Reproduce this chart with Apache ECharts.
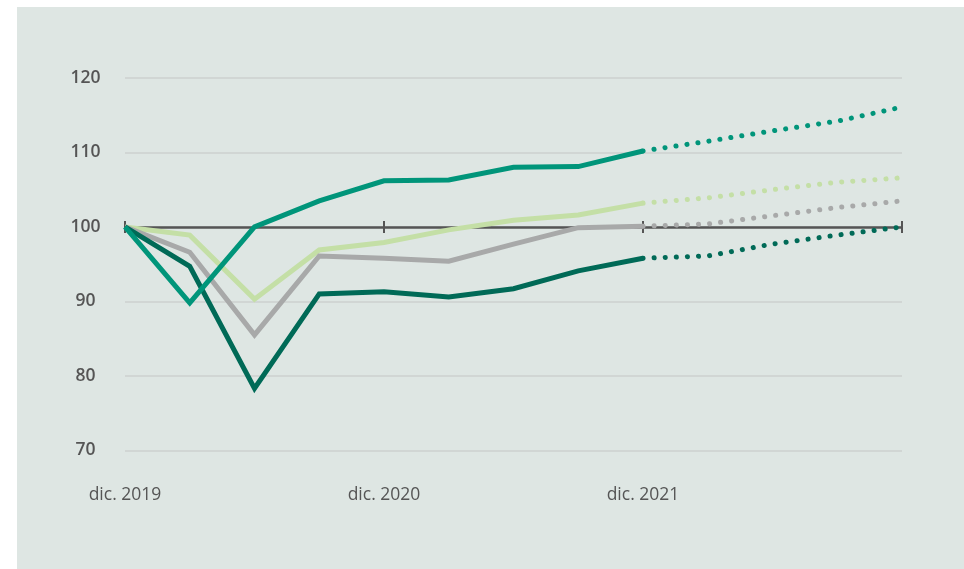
<!DOCTYPE html>
<html>
<head>
<meta charset="utf-8">
<script src="https://cdn.jsdelivr.net/npm/echarts@6/dist/echarts.min.js"></script>
<style>
  html, body { margin: 0; padding: 0; background: #ffffff; }
  #wrap { position: relative; width: 964px; height: 569px; }
  #panel { position: absolute; left: 17px; top: 7px; right: 0; bottom: 0; background: #dee6e3; }
  #chart { position: absolute; left: 0; top: 0; width: 964px; height: 569px; }
</style>
</head>
<body>
<div id="wrap">
  <div id="panel"></div>
  <div id="chart"></div>
</div>
<script>
// Quarterly index, December 2019 = 100
const quarters = ['dic. 2019', 'mar. 2020', 'jun. 2020', 'sep. 2020', 'dic. 2020',
                  'mar. 2021', 'jun. 2021', 'sep. 2021', 'dic. 2021',
                  'mar. 2022', 'jun. 2022', 'sep. 2022', 'dic. 2022'];
const tickLabels = ['dic. 2019', 'dic. 2020', 'dic. 2021'];
const yTicks = [70, 80, 90, 100, 110, 120];

// Observed values (dic. 2019 - dic. 2021)
const tealActual       = [100, 89.8, 100.0, 103.5, 106.2, 106.3, 108.0, 108.1, 110.2];
const lightGreenActual = [100, 98.9, 90.3, 96.9, 97.9, 99.6, 100.9, 101.6, 103.2];
const greyActual       = [100, 96.6, 85.5, 96.1, 95.8, 95.4, 97.7, 99.9, 100.1];
const darkGreenActual  = [100, 94.7, 78.3, 91.0, 91.3, 90.6, 91.7, 94.1, 95.8];

// Projections (dic. 2021 - dic. 2022)
const tealForecast       = [110.2, 111.5, 112.9, 114.2, 116.1];
const lightGreenForecast = [103.2, 103.9, 105.0, 106.0, 106.6];
const greyForecast       = [100.1, 100.4, 101.5, 102.6, 103.5];
const darkGreenForecast  = [95.8, 96.1, 97.7, 98.9, 100.0];

const colors = {
  teal: '#00957a',
  lightGreen: '#c4dfa6',
  grey: '#a8a9a9',
  darkGreen: '#006a57'
};

const actualLen = tealActual.length;

function actualData(arr) {
  return quarters.map((q, i) => (i < arr.length ? arr[i] : '-'));
}
function forecastData(arr) {
  const start = actualLen - 1;
  return quarters.map((q, i) => (i >= start && i - start < arr.length ? arr[i - start] : '-'));
}

function solid(name, arr, color) {
  return {
    name: name, type: 'line', xAxisIndex: 0, yAxisIndex: 0,
    data: actualData(arr), symbol: 'none', smooth: false,
    lineStyle: { color: color, width: 5, join: 'miter', cap: 'butt' },
    silent: true, animation: false
  };
}
function dotted(name, arr, color) {
  return {
    name: name, type: 'line', xAxisIndex: 0, yAxisIndex: 0,
    data: forecastData(arr), symbol: 'none', smooth: false,
    lineStyle: { color: color, width: 5, type: [0.1, 11], cap: 'round' },
    silent: true, animation: false
  };
}

const chart = echarts.init(document.getElementById('chart'), null, { renderer: 'canvas' });

const option = {
  backgroundColor: 'transparent',
  animation: false,
  grid: [
    { left: 125, right: 62, top: 78, bottom: 118.7, containLabel: false },
    { left: 125, right: 62, top: 221, height: 12, containLabel: false }
  ],
  xAxis: [
    {
      gridIndex: 0, type: 'category', data: quarters, boundaryGap: false,
      axisLine: { show: false }, axisTick: { show: false },
      splitLine: { show: false },
      axisLabel: {
        interval: 0, margin: 36,
        fontFamily: 'Open Sans', fontSize: 17.5, color: '#555555',
        formatter: v => (tickLabels.includes(v) ? v : '')
      }
    },
    {
      // short vertical ticks across the 100 baseline
      gridIndex: 1, type: 'category', data: quarters, boundaryGap: false,
      axisLine: { show: false }, axisTick: { show: false }, axisLabel: { show: false },
      splitLine: { show: true, interval: 3, lineStyle: { color: '#555555', width: 2 } }
    }
  ],
  yAxis: [
    {
      gridIndex: 0, type: 'value', min: yTicks[0], max: yTicks[yTicks.length - 1], interval: 10,
      axisLine: { show: false }, axisTick: { show: false },
      splitLine: { show: true, lineStyle: { color: '#ccd0cf', width: 1.5 } },
      axisLabel: {
        margin: 39.5, align: 'center', padding: [0, 0, 17, 0],
        fontFamily: 'Open Sans', fontWeight: 600, fontSize: 17.5, color: '#555555'
      }
    },
    {
      // the 100 baseline, drawn as the middle split line of this helper axis
      gridIndex: 1, type: 'value', min: 0, max: 2, interval: 1,
      axisLine: { show: false }, axisTick: { show: false }, axisLabel: { show: false },
      splitLine: { show: true, lineStyle: { color: ['rgba(0,0,0,0)', '#555555', 'rgba(0,0,0,0)'], width: 2.5 } }
    }
  ],
  series: [
    solid('Verde claro', lightGreenActual, colors.lightGreen),
    dotted('Verde claro (previsión)', lightGreenForecast, colors.lightGreen),
    solid('Gris', greyActual, colors.grey),
    dotted('Gris (previsión)', greyForecast, colors.grey),
    solid('Verde oscuro', darkGreenActual, colors.darkGreen),
    dotted('Verde oscuro (previsión)', darkGreenForecast, colors.darkGreen),
    solid('Verde', tealActual, colors.teal),
    dotted('Verde (previsión)', tealForecast, colors.teal)
  ]
};

chart.setOption(option);
</script>
</body>
</html>
